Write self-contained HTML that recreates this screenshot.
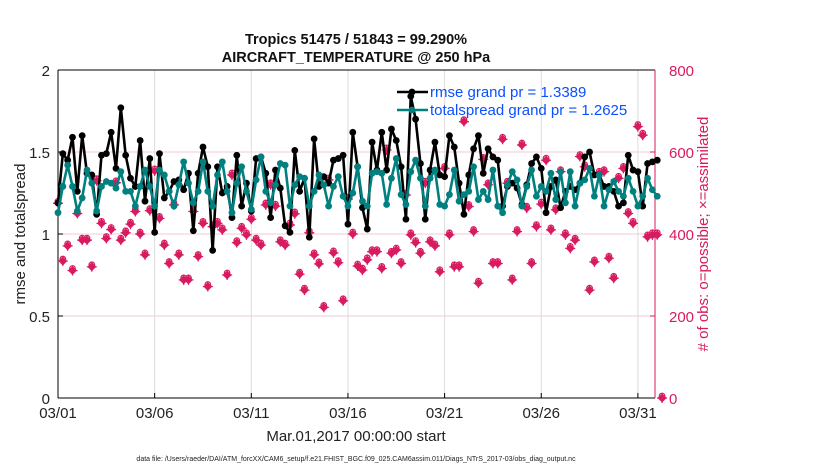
<!DOCTYPE html>
<html><head><meta charset="utf-8"><style>
body{margin:0;background:#fff;}
svg{display:block;font-family:"Liberation Sans",sans-serif;}
</style></head><body>
<svg id="chart" width="830" height="470" viewBox="0 0 830 470"></svg>
<script>
const dayTicks = [0,5,10,15,20,25,30];
const dayTickLabels = ["03/01","03/06","03/11","03/16","03/21","03/26","03/31"];
const leftTicks = [0,0.5,1,1.5,2];
const rightTicks = [0,200,400,600,800];
const timeStep = 0.25;
const rmse = [1.19,1.49,1.45,1.59,1.26,1.60,1.37,1.36,1.12,1.48,1.49,1.62,1.40,1.77,1.48,1.34,1.29,1.57,1.20,1.46,1.01,1.49,1.22,1.26,1.32,1.33,1.27,1.37,1.02,1.37,1.53,1.41,0.90,1.41,1.25,1.29,1.10,1.48,1.17,1.31,1.14,1.46,1.47,1.37,1.10,1.39,1.28,1.05,1.01,1.51,1.26,1.34,0.98,1.58,1.29,1.35,1.31,1.45,1.46,1.48,1.06,1.62,1.41,
1.16,1.03,1.56,1.39,1.62,1.39,1.64,1.57,1.41,1.09,1.84,1.70,1.43,1.09,1.39,1.56,1.36,1.35,1.60,1.53,1.31,1.12,1.36,1.52,1.60,1.37,1.52,1.47,1.45,1.17,1.29,1.31,1.28,1.18,1.30,1.43,1.47,1.40,1.13,1.29,1.33,1.16,1.26,1.29,1.27,1.31,1.47,1.50,1.36,1.36,1.29,1.29,1.26,1.17,1.19,1.48,1.39,1.38,1.17,1.43,1.44,1.45];
const spread = [1.13,1.29,1.42,1.29,1.14,1.22,1.39,1.31,1.14,1.29,1.32,1.31,1.28,1.38,1.26,1.26,1.17,1.29,1.39,1.29,1.17,1.39,1.36,1.26,1.17,1.30,1.44,1.31,1.19,1.26,1.44,1.26,1.17,1.36,1.44,1.26,1.13,1.31,1.41,1.26,1.15,1.33,1.47,1.26,1.19,1.30,1.43,1.42,1.17,1.30,1.35,1.34,1.17,1.26,1.36,1.30,1.17,1.29,1.35,1.23,1.17,1.25,1.41,
1.20,1.17,1.37,1.38,1.37,1.18,1.34,1.46,1.24,1.18,1.38,1.45,1.34,1.17,1.34,1.39,1.18,1.17,1.24,1.39,1.20,1.24,1.26,1.41,1.21,1.26,1.21,1.39,1.17,1.13,1.30,1.38,1.33,1.17,1.29,1.39,1.23,1.29,1.26,1.37,1.21,1.38,1.19,1.38,1.17,1.31,1.33,1.40,1.23,1.36,1.17,1.27,1.32,1.26,1.23,1.34,1.26,1.17,1.23,1.34,1.27,1.23];
const obsCount = [475,334,371,311,450,385,385,320,530,426,389,411,525,385,403,424,455,400,349,457,554,438,373,328,471,349,288,288,455,345,426,272,418,426,410,300,544,379,414,398,436,385,373,471,520,468,381,373,422,449,302,263,403,349,327,221,532,354,330,237,485,400,322,
312,337,357,357,316,605,353,361,328,495,398,379,353,524,381,371,308,560,398,320,320,674,467,406,280,582,520,328,328,631,524,288,406,617,463,328,418,473,580,410,459,552,398,365,385,589,564,263,332,548,552,341,292,536,560,450,426,662,641,393,398,398,0];

const svg=document.getElementById('chart');
const NS='http://www.w3.org/2000/svg';
const X0=58,X1=655,YT=70,YB=398,PXDAY=19.33;
const xs=d=>X0+d*PXDAY;
const yl=v=>YB-(v/2)*(YB-YT);
const yr=v=>YB-(v/800)*(YB-YT);
function el(t,a,p){const e=document.createElementNS(NS,t);for(const k in a)e.setAttribute(k,a[k]);(p||svg).appendChild(e);return e;}
const MAG='#d81b60',TEAL='#00807f';
// grid
dayTicks.forEach((d,i)=>{
 const g=el('line',{x1:xs(d),x2:xs(d),y1:YT,y2:YB,stroke:'#dcdcdc','stroke-width':1});
 
 
 el('line',{x1:xs(d),x2:xs(d),y1:YB,y2:YB-5,stroke:'#000'});
 const t=el('text',{x:xs(d),y:418,'font-size':15,'text-anchor':'middle',fill:'#222'});t.textContent=dayTickLabels[i];
 
 
});
rightTicks.forEach(v=>{
 if(v>0&&v<800){const g=el('line',{x1:X0,x2:X1,y1:yr(v),y2:yr(v),stroke:'#f6c9d8','stroke-width':1});
 
 }
 el('line',{x1:X1,x2:X1-5,y1:yr(v),y2:yr(v),stroke:MAG});
 const t=el('text',{x:669,y:yr(v)+6,'font-size':15,fill:MAG});t.textContent=v;
 
 
});
leftTicks.forEach(v=>{
 el('line',{x1:X0,x2:X0+5,y1:yl(v),y2:yl(v),stroke:'#000'});
 const t=el('text',{x:50,y:yl(v)+6,'font-size':15,'text-anchor':'end',fill:'#222'});t.textContent=v;
 
 
});
// axes
el('line',{x1:X0,x2:X1,y1:YT,y2:YT,stroke:'#000'});
el('line',{x1:X0,x2:X1,y1:YB,y2:YB,stroke:'#000'});
el('line',{x1:X0,x2:X0,y1:YT,y2:YB,stroke:'#000'});
el('line',{x1:X1,x2:X1,y1:YT,y2:YB,stroke:MAG});
// obs markers
const og=el('g',{});


obsCount.forEach((n,i)=>{
 const x=xs(i*timeStep),y=yr(n);
 el('circle',{cx:x,cy:y-2,r:2.8,fill:'none',stroke:MAG,'stroke-width':1.2},og);
 el('path',{d:`M${x-4.5},${y}L${x},${y-4.5}L${x+4.5},${y}L${x},${y+4.5}Z`,fill:MAG},og);
 el('path',{d:`M${x-5},${y}H${x+5}M${x},${y-5}V${y+5}`,stroke:MAG,'stroke-width':1.2},og);
});
function series(arr,color,name){
 const g=el('g',{});
 
 
 el('polyline',{points:arr.map((v,i)=>xs(i*timeStep)+','+yl(v)).join(' '),fill:'none',stroke:color,'stroke-width':2.6,'stroke-linejoin':'round'},g);
 arr.forEach((v,i)=>el('circle',{cx:xs(i*timeStep),cy:yl(v),r:3.4,fill:color},g));
}
series(rmse,'#000','rmse-series');
series(spread,TEAL,'totalspread-series');
// legend
const lg=el('g',{});


[['#000','rmse grand pr = 1.3389',92],[TEAL,'totalspread grand pr = 1.2625',110]].forEach(([c,txt,y])=>{
 el('line',{x1:397,x2:428,y1:y,y2:y,stroke:c,'stroke-width':2.6},lg);
 el('circle',{cx:412,cy:y,r:3.4,fill:c},lg);
 const t=el('text',{x:430,y:y+5,'font-size':15,fill:'#0a50ff'},lg);t.textContent=txt;
});
// titles
const t1=el('text',{x:356,y:44,'font-size':14.5,'font-weight':'bold','text-anchor':'middle',fill:'#111'});t1.textContent='Tropics 51475 / 51843 = 99.290%';

const t2=el('text',{x:356,y:62,'font-size':14.5,'font-weight':'bold','text-anchor':'middle',fill:'#111'});t2.textContent='AIRCRAFT_TEMPERATURE @ 250 hPa';

const yt=el('text',{x:0,y:0,'font-size':15,'text-anchor':'middle',fill:'#222',transform:'translate(25,234) rotate(-90)'});yt.textContent='rmse and totalspread';

const yt2=el('text',{x:0,y:0,'font-size':15,'text-anchor':'middle',fill:MAG,transform:'translate(708,234) rotate(-90)'});yt2.textContent='# of obs: o=possible; \u00d7=assimilated';

const xt=el('text',{x:356,y:441,'font-size':15,'text-anchor':'middle',fill:'#222'});xt.textContent='Mar.01,2017 00:00:00 start';

const df=el('text',{x:356,y:461,'font-size':7,'text-anchor':'middle',fill:'#222'});df.textContent='data file: /Users/raeder/DAI/ATM_forcXX/CAM6_setup/f.e21.FHIST_BGC.f09_025.CAM6assim.011/Diags_NTrS_2017-03/obs_diag_output.nc';

</script>
</body></html>
